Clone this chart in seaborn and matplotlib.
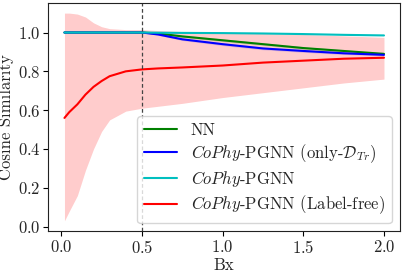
import numpy as np
import pandas as pd
import matplotlib
matplotlib.use("Agg")
import matplotlib.pyplot as plt
import seaborn as sns

# Data
bx = [0.02, 0.05, 0.1, 0.15, 0.2, 0.25, 0.3, 0.4, 0.5, 0.6, 0.75, 1.0, 1.25, 1.5, 1.75, 2.0]

nn = [1.0, 1.0, 1.0, 1.0, 1.0, 1.0, 1.0, 1.0, 1.0, 0.995, 0.98, 0.96, 0.94, 0.92, 0.905, 0.89]
only_dtr = [1.0, 1.0, 1.0, 1.0, 1.0, 1.0, 1.0, 1.0, 1.0, 0.99, 0.965, 0.94, 0.918, 0.905, 0.893, 0.885]
cophy = [1.0, 1.0, 1.0, 1.0, 1.0, 1.0, 1.0, 1.0, 1.0, 0.999, 0.998, 0.997, 0.995, 0.992, 0.988, 0.985]
label_free = [0.56, 0.59, 0.63, 0.68, 0.72, 0.75, 0.775, 0.80, 0.81, 0.815, 0.82, 0.83, 0.845, 0.855, 0.865, 0.87]

lf_upper = [1.10, 1.10, 1.095, 1.08, 1.05, 1.03, 1.02, 1.015, 1.015, 1.01, 1.005, 1.0, 0.995, 0.99, 0.983, 0.975]
lf_lower = [0.03, 0.08, 0.16, 0.29, 0.40, 0.49, 0.55, 0.595, 0.61, 0.62, 0.635, 0.665, 0.69, 0.715, 0.74, 0.76]
small_band = [0.0, 0.0, 0.0, 0.0, 0.0, 0.0, 0.0, 0.0, 0.002, 0.004, 0.006, 0.007, 0.007, 0.007, 0.006, 0.005]

labels = [r"NN",
          r"$\mathit{CoPhy}$-PGNN (only-$\mathcal{D}_{Tr}$)",
          r"$\mathit{CoPhy}$-PGNN",
          r"$\mathit{CoPhy}$-PGNN (Label-free)"]
colors = ["green", "blue", "c", "red"]

sns.set_style("ticks")
plt.rcParams["font.family"] = ["cmr10", "DejaVu Serif"]
plt.rcParams["mathtext.fontset"] = "cm"
plt.rcParams["axes.formatter.use_mathtext"] = True
plt.rcParams["font.size"] = 12

fig, ax = plt.subplots(figsize=(4.04, 2.72), dpi=100)

# bands
ax.fill_between(bx, lf_lower, lf_upper, color="red", alpha=0.2, linewidth=0)
for ys, c in [(nn, "green"), (only_dtr, "blue")]:
    ax.fill_between(bx, np.array(ys) - small_band, np.array(ys) + small_band,
                    color=c, alpha=0.15, linewidth=0)

for ys, lab, c in zip([nn, only_dtr, cophy, label_free], labels, colors):
    sns.lineplot(x=bx, y=ys, color=c, label=lab, linewidth=1.5, ax=ax)

ax.axvline(0.5, color="#444444", linestyle=(0, (3, 2)), linewidth=0.9)

ax.set_xlabel("Bx", labelpad=1)
ax.set_ylabel("Cosine Similarity", labelpad=3)
ax.set_xticks([0.0, 0.5, 1.0, 1.5, 2.0])
ax.set_yticks([0.0, 0.2, 0.4, 0.6, 0.8, 1.0])
ax.tick_params(labelsize=12, length=3.5, color="black", pad=2)
for s in ax.spines.values():
    s.set_color("#222222")
ax.legend(loc="lower right", fontsize=12, framealpha=0.8, borderpad=0.4,
          labelspacing=0.25, handlelength=2.0, edgecolor="#cccccc")

fig.subplots_adjust(left=0.12, right=0.99, top=0.99, bottom=0.15)
fig.savefig("out.png", dpi=100)
